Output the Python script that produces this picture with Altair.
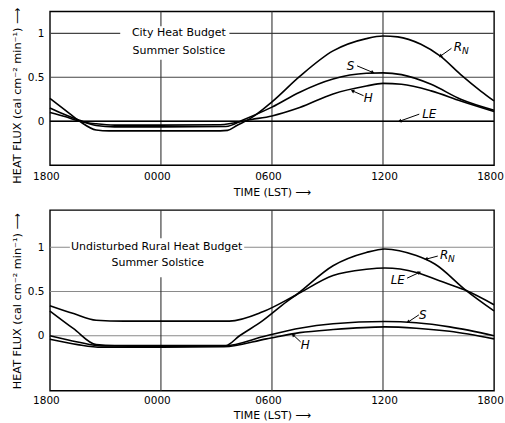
import math
import altair as alt
import pandas as pd

FONT = "DejaVu Sans"

# ---------------- axis ticks ----------------
tick_hours = [0, 6, 12, 18, 24]           # hours after 1800 LST
tick_labels = ["1800", "0000", "0600", "1200", "1800"]
y_ticks = [0, 0.5, 1]
y_tick_labels = ["0", "0.5", "1"]
x_grid = [6, 12, 18]

# ---------------- City heat budget ----------------
city_rn_hr = [0, 0.86, 1.6, 2.5, 3.2, 6, 9.2, 9.6, 10.1, 10.9, 12, 13.5, 15.3, 17.1, 18, 18.8, 20.05, 21.1, 22.2, 23.3, 24]
city_rn = [0.26, 0.12, 0.0, -0.10, -0.11, -0.11, -0.11, -0.105, -0.05, 0.04, 0.22, 0.51, 0.80, 0.94, 0.97, 0.96, 0.875, 0.74, 0.53, 0.34, 0.23]
city_s_hr = [0, 0.86, 1.6, 2.5, 3.5, 6, 9.5, 10.5, 12, 13.5, 15.3, 17.1, 18, 19, 20.6, 22.2, 24]
city_s = [0.15, 0.07, 0.01, -0.05, -0.065, -0.065, -0.06, 0.02, 0.16, 0.33, 0.48, 0.545, 0.55, 0.53, 0.42, 0.25, 0.125]
city_h_hr = [0, 0.86, 1.6, 2.5, 3.5, 6, 9.2, 10.9, 12, 13.5, 15.3, 17.1, 18, 19, 20.6, 22.2, 24]
city_h = [0.10, 0.05, 0.0, -0.03, -0.045, -0.045, -0.04, 0.02, 0.06, 0.155, 0.31, 0.40, 0.43, 0.42, 0.345, 0.23, 0.11]
city_le_hr = [0, 6, 12, 18, 24]
city_le = [0.0, 0.0, 0.0, 0.0, 0.0]

# ---------------- Rural heat budget ----------------
rural_rn_hr = [0, 1.28, 2.5, 3.5, 6, 9.5, 10.25, 11.5, 12.8, 13.3, 15.3, 17.1, 18.1, 19.8, 20.8, 22.5, 24]
rural_rn = [0.28, 0.08, -0.10, -0.11, -0.11, -0.11, 0.0, 0.17, 0.385, 0.46, 0.79, 0.94, 0.98, 0.905, 0.81, 0.51, 0.28]
rural_le_hr = [0, 1.28, 2.5, 4, 6, 9.7, 11.5, 13.3, 15.3, 17.1, 18.1, 19.8, 21.05, 22.5, 24]
rural_le = [0.34, 0.25, 0.175, 0.165, 0.165, 0.165, 0.27, 0.46, 0.68, 0.75, 0.765, 0.715, 0.62, 0.51, 0.35]
rural_s_hr = [0, 1.5, 2.8, 6, 9.4, 11.7, 13.5, 15.3, 18.1, 19.8, 21.6, 24]
rural_s = [0.0, -0.07, -0.115, -0.12, -0.115, 0.0, 0.085, 0.135, 0.16, 0.146, 0.10, 0.0]
rural_h_hr = [0, 1.5, 2.8, 6, 9.4, 11.7, 13.5, 15.3, 18.1, 19.8, 21.6, 24]
rural_h = [-0.04, -0.10, -0.13, -0.13, -0.125, -0.035, 0.035, 0.07, 0.10, 0.085, 0.05, -0.035]

# ---------------- annotations ----------------
city_title = ["City Heat Budget", "Summer Solstice"]
city_title_hr = [6.97, 6.97]
city_title_y = [1.0, 0.8]
city_box = {"x": 3.8, "x2": 9.7, "y": 0.7, "y2": 1.08}

rural_title = ["Undisturbed Rural Heat Budget", "Summer Solstice"]
rural_title_hr = [5.77, 5.83]
rural_title_y = [1.0, 0.82]
rural_box = {"x": 1.08, "x2": 10.5, "y": 0.66, "y2": 1.1}

city_lbl = ["R", "S", "H", "LE"]
city_lbl_hr = [22.05, 16.25, 17.2, 20.5]
city_lbl_y = [0.84, 0.63, 0.26, 0.08]
city_lead_x1 = [21.7, 16.6, 16.95, 19.96]
city_lead_y1 = [0.83, 0.63, 0.29, 0.08]
city_lead_x2 = [21.1, 17.45, 16.35, 18.9]
city_lead_y2 = [0.74, 0.555, 0.345, 0.0]

rural_lbl = ["R", "LE", "S", "H"]
rural_lbl_hr = [21.3, 18.8, 20.15, 13.8]
rural_lbl_y = [0.91, 0.63, 0.236, -0.11]
rural_lead_x1 = [20.96, 19.3, 19.94, 13.55]
rural_lead_y1 = [0.90, 0.65, 0.236, -0.07]
rural_lead_x2 = [20.33, 19.97, 19.35, 13.14]
rural_lead_y2 = [0.865, 0.715, 0.154, 0.01]

WIDTH = 445


def long_df(series):
    rows = []
    for name, hrs, vals in series:
        for h, v in zip(hrs, vals):
            rows.append({"series": name, "hr": h, "v": v})
    return pd.DataFrame(rows)


def panel(series, domain, height, title_txt, title_hr, title_y, box,
          lbl, lbl_hr, lbl_y, lx1, ly1, lx2, ly2, hgrid_color, title_y_pos, lab_pad, tit_pad):
    xs = alt.Scale(domain=[0, 24], nice=False, zero=False)
    ys = alt.Scale(domain=domain, nice=False, zero=False)
    label_expr = "[" + ",".join("'%s'" % t for t in tick_labels) + "][round(datum.value/6)]"
    ylabel_expr = "[" + ",".join("'%s'" % t for t in y_tick_labels) + "][round(datum.value*2)]"
    xaxis = alt.Axis(values=tick_hours, labelExpr=label_expr, grid=False, ticks=False, domain=False,
                     labelFont=FONT, labelFontSize=10.5, labelColor="black", labelPadding=lab_pad,
                     labelFlush=False,
                     labelOffset={"condition": {"test": "datum.value == 18", "value": 1}, "value": -4},
                     title="TIME  (LST) \u27f6", titleFont=FONT, titleFontSize=11,
                     titleFontWeight="normal", titleColor="black", titlePadding=tit_pad)
    yaxis = alt.Axis(values=y_ticks, labelExpr=ylabel_expr, grid=False, ticks=False, domain=False,
                     labelFont=FONT, labelFontSize=10.5, labelColor="black", labelPadding=6,
                     title="HEAT  FLUX  (cal cm\u207b\u00b2 min\u207b\u00b9) \u27f6", titleFont=FONT,
                     titleFontSize=11.3, titleFontWeight="normal", titleColor="black", titlePadding=5,
                     titleY=title_y_pos)

    def X(f):
        return alt.X(f, scale=xs, axis=xaxis)

    def Y(f):
        return alt.Y(f, scale=ys, axis=yaxis)

    hg = alt.Chart(pd.DataFrame({"hr": [0, 0, 0], "v": y_ticks})).mark_rule(color=hgrid_color, strokeWidth=1.1).encode(
        y=Y("v:Q"))
    vg = alt.Chart(pd.DataFrame({"hr": x_grid})).mark_rule(color="#333333", strokeWidth=1.1).encode(
        x=X("hr:Q"))
    bx = alt.Chart(pd.DataFrame([box])).mark_rect(color="white").encode(
        x=X("x:Q"), x2="x2:Q", y=Y("y:Q"), y2="y2:Q")
    tt = alt.Chart(pd.DataFrame({"t": title_txt, "hr": title_hr, "v": title_y})).mark_text(
        font=FONT, fontSize=11, color="black", align="center", baseline="middle").encode(
        x=X("hr:Q"), y=Y("v:Q"), text="t:N")
    lines = alt.Chart(long_df(series)).mark_line(color="black", strokeWidth=1.6, interpolate="monotone").encode(
        x=X("hr:Q"), y=Y("v:Q"), detail="series:N")

    # leader lines with small arrow heads
    pxh = WIDTH / 24.0
    pyv = height / (domain[1] - domain[0])
    angs = []
    for a, b, c, d in zip(lx1, ly1, lx2, ly2):
        dx = (c - a) * pxh
        dy = -(d - b) * pyv
        angs.append((math.degrees(math.atan2(dx, -dy)) + 360) % 360)
    ld = pd.DataFrame({"x1": lx1, "y1": ly1, "x2": lx2, "y2": ly2, "ang": angs})
    leads = alt.Chart(ld).mark_rule(color="black", strokeWidth=1.0).encode(
        x=X("x1:Q"), x2="x2:Q", y=Y("y1:Q"), y2="y2:Q")
    heads = alt.Chart(ld).mark_point(shape="triangle-up", filled=True, size=16, color="black", opacity=1).encode(
        x=X("x2:Q"), y=Y("y2:Q"), angle=alt.Angle("ang:Q", scale=None))
    ldf = pd.DataFrame({"t": lbl, "hr": lbl_hr, "v": lbl_y})
    labels = alt.Chart(ldf).mark_text(font=FONT, fontSize=12, fontStyle="italic", color="black",
                                      align="center", baseline="middle").encode(
        x=X("hr:Q"), y=Y("v:Q"), text="t:N")
    sub = alt.Chart(ldf[ldf["t"] == "R"]).mark_text(font=FONT, fontSize=9, fontStyle="italic", color="black",
                                                     align="left", baseline="middle", dx=4, dy=4).encode(
        x=X("hr:Q"), y=Y("v:Q"), text=alt.value("N"))

    return alt.layer(hg, vg, bx, tt, lines, leads, heads, labels, sub).properties(width=WIDTH, height=height)


top = panel([("RN", city_rn_hr, city_rn), ("S", city_s_hr, city_s), ("H", city_h_hr, city_h),
             ("LE", city_le_hr, city_le)], [-0.5, 1.25], 154, city_title, city_title_hr, city_title_y,
            city_box, city_lbl, city_lbl_hr, city_lbl_y, city_lead_x1, city_lead_y1, city_lead_x2,
            city_lead_y2, "#444444", 84, 6, 5)
bottom = panel([("RN", rural_rn_hr, rural_rn), ("LE", rural_le_hr, rural_le), ("S", rural_s_hr, rural_s),
                ("H", rural_h_hr, rural_h)], [-0.62, 1.42], 181, rural_title, rural_title_hr, rural_title_y,
               rural_box, rural_lbl, rural_lbl_hr, rural_lbl_y, rural_lead_x1, rural_lead_y1,
               rural_lead_x2, rural_lead_y2, "#8a8a8a", 91, 5, 3)

chart = alt.vconcat(top, bottom, spacing=45, bounds="flush").properties(
    padding={"left": 10, "top": 2, "right": 0, "bottom": 0},
    background="white"
).configure_view(stroke="black", strokeWidth=1.4)

chart.save("out.html", embed_options={"renderer": "svg", "actions": False})
